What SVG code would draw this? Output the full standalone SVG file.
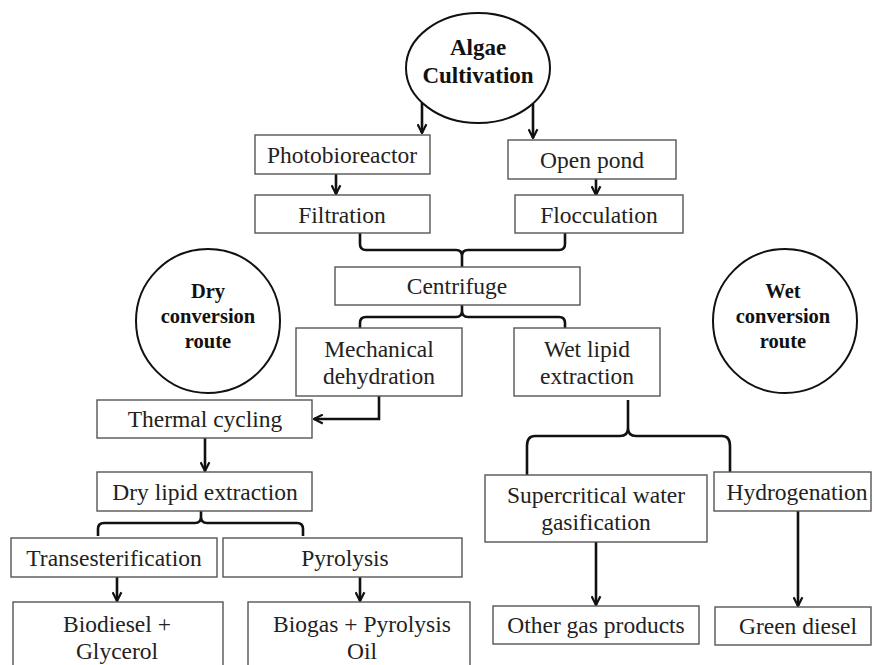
<svg xmlns="http://www.w3.org/2000/svg" width="874" height="665" viewBox="0 0 874 665">
<defs>
<style>
.box{fill:#fff;stroke:#555;stroke-width:1.4}
.circ{fill:#fff;stroke:#111;stroke-width:2}
.c{fill:none;stroke:#111;stroke-width:2.6}
</style>
<marker id="ah" viewBox="0 0 10 10" refX="9" refY="5" markerWidth="11" markerHeight="11" markerUnits="userSpaceOnUse" orient="auto">
<path d="M1,1 L9,5 L1,9" fill="none" stroke="#111" stroke-width="2"/>
</marker>
</defs>
<rect width="874" height="665" fill="#fff"/>
<g id="connectors">
<path class="c" d="M422,103 V133" marker-end="url(#ah)"/>
<path class="c" d="M533,104 V138" marker-end="url(#ah)"/>
<path class="c" d="M336,174 V194" marker-end="url(#ah)"/>
<path class="c" d="M596,179 V195" marker-end="url(#ah)"/>
<path class="c" d="M360,233 V244 Q360,250 366,250 H456 Q462,250 462,256 V267 M565,233 V244 Q565,250 559,250 H468 Q462,250 462,256"/>
<path class="c" d="M462,305 V311 Q462,317 456,317 H366 Q360,317 360,323 V328 M462,311 Q462,317 468,317 H559 Q565,317 565,323 V328"/>
<path class="c" d="M379,396 V419 H314" marker-end="url(#ah)"/>
<path class="c" d="M205,438 V471" marker-end="url(#ah)"/>
<path class="c" d="M201,511 V517 Q201,523 195,523 H104 Q98,523 98,529 V536 M201,517 Q201,523 207,523 H297 Q303,523 303,529 V536"/>
<path class="c" d="M117,577 V601" marker-end="url(#ah)"/>
<path class="c" d="M360,577 V601" marker-end="url(#ah)"/>
<path class="c" d="M628,400 V428 Q628,436 620,436 H535 Q527,436 527,446 V475 M628,428 Q628,436 636,436 H722 Q730,436 730,446 V472"/>
<path class="c" d="M596,542 V605" marker-end="url(#ah)"/>
<path class="c" d="M798,511 V606" marker-end="url(#ah)"/>
</g>
<g id="algae">
<ellipse class="circ" cx="478" cy="68" rx="72" ry="55"/>
<text x="478" y="55" font-family="Liberation Serif" font-size="23" font-weight="bold" fill="#111" text-anchor="middle">Algae</text>
<text x="478" y="83" font-family="Liberation Serif" font-size="23" font-weight="bold" fill="#111" text-anchor="middle">Cultivation</text>
</g>
<g id="photobioreactor">
<rect class="box" x="255" y="135" width="175" height="39"/>
<text x="342" y="163" font-family="Liberation Serif" font-size="23.5" fill="#222" text-anchor="middle">Photobioreactor</text>
</g>
<g id="openpond">
<rect class="box" x="508" y="140" width="168" height="39"/>
<text x="592" y="168" font-family="Liberation Serif" font-size="23.5" fill="#222" text-anchor="middle">Open pond</text>
</g>
<g id="filtration">
<rect class="box" x="255" y="195" width="175" height="38"/>
<text x="342" y="223" font-family="Liberation Serif" font-size="23.5" fill="#222" text-anchor="middle">Filtration</text>
</g>
<g id="flocculation">
<rect class="box" x="515" y="195" width="168" height="38"/>
<text x="599" y="223" font-family="Liberation Serif" font-size="23.5" fill="#222" text-anchor="middle">Flocculation</text>
</g>
<g id="centrifuge">
<rect class="box" x="335" y="267" width="245" height="38"/>
<text x="457" y="294" font-family="Liberation Serif" font-size="23.5" fill="#222" text-anchor="middle">Centrifuge</text>
</g>
<g id="dryroute">
<circle class="circ" cx="208" cy="321" r="72"/>
<text x="208" y="298" font-family="Liberation Serif" font-size="20.5" font-weight="bold" fill="#111" text-anchor="middle">Dry</text>
<text x="208" y="323" font-family="Liberation Serif" font-size="20.5" font-weight="bold" fill="#111" text-anchor="middle">conversion</text>
<text x="208" y="348" font-family="Liberation Serif" font-size="20.5" font-weight="bold" fill="#111" text-anchor="middle">route</text>
</g>
<g id="wetroute">
<circle class="circ" cx="785" cy="321" r="72"/>
<text x="783" y="298" font-family="Liberation Serif" font-size="20.5" font-weight="bold" fill="#111" text-anchor="middle">Wet</text>
<text x="783" y="323" font-family="Liberation Serif" font-size="20.5" font-weight="bold" fill="#111" text-anchor="middle">conversion</text>
<text x="783" y="348" font-family="Liberation Serif" font-size="20.5" font-weight="bold" fill="#111" text-anchor="middle">route</text>
</g>
<g id="mechanical">
<rect class="box" x="296" y="328" width="166" height="68"/>
<text x="379" y="357" font-family="Liberation Serif" font-size="23.5" fill="#222" text-anchor="middle">Mechanical</text>
<text x="379" y="384" font-family="Liberation Serif" font-size="23.5" fill="#222" text-anchor="middle">dehydration</text>
</g>
<g id="wetlipid">
<rect class="box" x="514" y="328" width="146" height="68"/>
<text x="587" y="357" font-family="Liberation Serif" font-size="23.5" fill="#222" text-anchor="middle">Wet lipid</text>
<text x="587" y="384" font-family="Liberation Serif" font-size="23.5" fill="#222" text-anchor="middle">extraction</text>
</g>
<g id="thermal">
<rect class="box" x="97" y="400" width="215" height="38"/>
<text x="205" y="427" font-family="Liberation Serif" font-size="23.5" fill="#222" text-anchor="middle">Thermal cycling</text>
</g>
<g id="drylipid">
<rect class="box" x="97" y="472" width="215" height="39"/>
<text x="205" y="500" font-family="Liberation Serif" font-size="23.5" fill="#222" text-anchor="middle">Dry lipid extraction</text>
</g>
<g id="trans">
<rect class="box" x="11" y="538" width="206" height="39"/>
<text x="114" y="566" font-family="Liberation Serif" font-size="23.5" fill="#222" text-anchor="middle">Transesterification</text>
</g>
<g id="pyrolysis">
<rect class="box" x="223" y="538" width="239" height="39"/>
<text x="345" y="566" font-family="Liberation Serif" font-size="23.5" fill="#222" text-anchor="middle">Pyrolysis</text>
</g>
<g id="biodiesel">
<rect class="box" x="13" y="602" width="210" height="80"/>
<text x="117" y="632" font-family="Liberation Serif" font-size="23.5" fill="#222" text-anchor="middle">Biodiesel +</text>
<text x="117" y="659" font-family="Liberation Serif" font-size="23.5" fill="#222" text-anchor="middle">Glycerol</text>
</g>
<g id="biogas">
<rect class="box" x="248" y="602" width="222" height="80"/>
<text x="362" y="632" font-family="Liberation Serif" font-size="23.5" fill="#222" text-anchor="middle">Biogas + Pyrolysis</text>
<text x="362" y="659" font-family="Liberation Serif" font-size="23.5" fill="#222" text-anchor="middle">Oil</text>
</g>
<g id="scwg">
<rect class="box" x="485" y="475" width="222" height="67"/>
<text x="596" y="503" font-family="Liberation Serif" font-size="23.5" fill="#222" text-anchor="middle">Supercritical water</text>
<text x="596" y="530" font-family="Liberation Serif" font-size="23.5" fill="#222" text-anchor="middle">gasification</text>
</g>
<g id="hydrogenation">
<rect class="box" x="714" y="472" width="157" height="39"/>
<text x="797" y="500" font-family="Liberation Serif" font-size="23.5" fill="#222" text-anchor="middle">Hydrogenation</text>
</g>
<g id="othergas">
<rect class="box" x="493" y="606" width="206" height="38"/>
<text x="596" y="633" font-family="Liberation Serif" font-size="23.5" fill="#222" text-anchor="middle">Other gas products</text>
</g>
<g id="greendiesel">
<rect class="box" x="715" y="607" width="156" height="38"/>
<text x="798" y="634" font-family="Liberation Serif" font-size="23.5" fill="#222" text-anchor="middle">Green diesel</text>
</g>
</svg>
